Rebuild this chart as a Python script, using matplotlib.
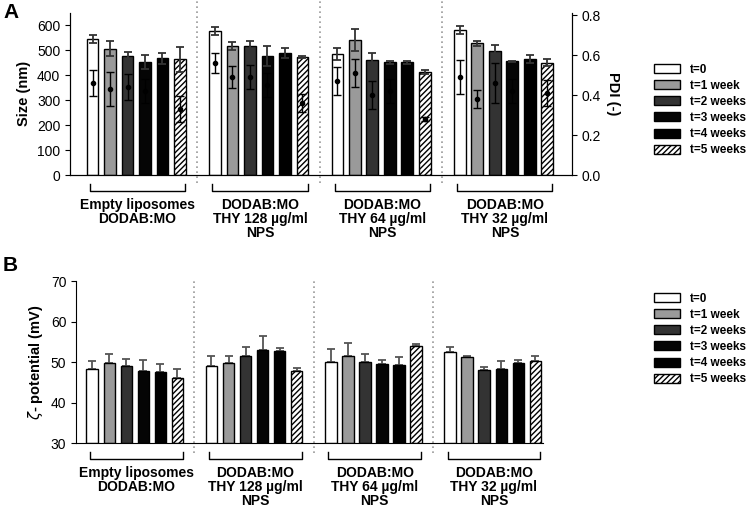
import matplotlib.pyplot as plt
import numpy as np

plt.rcParams['font.family'] = ['Liberation Sans', 'DejaVu Sans']
plt.rcParams['hatch.linewidth'] = 1.0

groups = ['Empty liposomes\nDODAB:MO', 'DODAB:MO\nTHY 128 µg/ml\nNPS',
          'DODAB:MO\nTHY 64 µg/ml\nNPS', 'DODAB:MO\nTHY 32 µg/ml\nNPS']
times = ['t=0', 't=1 week', 't=2 weeks', 't=3 weeks', 't=4 weeks', 't=5 weeks']
colors = ['white', '#9a9a9a', '#333333', '#050505', '#000000', 'white']
hatches = ['', '', '', '', '', '//////']

# size (nm), rows = groups, cols = time points
size = [[545, 505, 475, 452, 468, 463],
        [576, 516, 516, 476, 487, 473],
        [483, 540, 460, 451, 451, 412],
        [580, 527, 495, 455, 463, 450]]
size_err = [[15, 30, 18, 28, 22, 50],
            [17, 15, 20, 40, 20, 4],
            [24, 43, 27, 7, 7, 8],
            [15, 10, 24, 3, 16, 15]]
pdi = [[0.46, 0.43, 0.44, 0.42, 0.42, 0.33],
       [0.56, 0.49, 0.49, 0.45, 0.45, 0.36],
       [0.47, 0.51, 0.40, 0.42, 0.42, 0.28],
       [0.49, 0.38, 0.46, 0.42, 0.42, 0.41]]
pdi_err = [[0.065, 0.085, 0.065, 0.06, 0.06, 0.065],
           [0.05, 0.055, 0.06, 0.06, 0.06, 0.045],
           [0.07, 0.07, 0.07, 0.06, 0.06, 0.01],
           [0.083, 0.045, 0.10, 0.06, 0.06, 0.065]]
# zeta potential (mV)
zeta = [[48.3, 49.7, 49.1, 47.8, 47.7, 46.1],
        [49.1, 49.7, 51.4, 52.9, 52.8, 47.9],
        [50.1, 51.5, 50.0, 49.5, 49.2, 53.9],
        [52.5, 51.2, 48.0, 48.2, 49.9, 50.2]]
zeta_err = [[2.0, 2.2, 1.6, 2.7, 1.8, 2.3],
            [2.5, 1.9, 2.4, 3.5, 0.7, 0.7],
            [3.1, 3.3, 2.0, 1.1, 2.1, 0.7],
            [1.2, 0.4, 0.7, 2.0, 0.7, 1.4]]

size = np.array(size)
size_err = np.array(size_err)
pdi = np.array(pdi)
pdi_err = np.array(pdi_err)
zeta = np.array(zeta)
zeta_err = np.array(zeta_err)

ng, nt = size.shape
step = nt + 1
w = 0.67

fig = plt.figure(figsize=(7.5, 5.09), dpi=100)
axA = fig.add_axes([0.0933, 0.656, 0.669, 0.3193])
axB = fig.add_axes([0.1013, 0.129, 0.6227, 0.3189])


def draw_groups(ax, ytop, ybot):
    # dotted dividers and brackets with labels
    for g in range(1, ng):
        ax.axvline(g * step - 1, ymin=ybot, ymax=ytop, color='#999999', ls=(0, (1, 2)),
                   lw=1.2, clip_on=False, zorder=0)
    trans = ax.get_xaxis_transform()
    for g in range(ng):
        x0 = g * step - 0.15
        x1 = g * step + nt - 1 + 0.3
        ax.plot([x0, x0, x1, x1], [-0.055, -0.095, -0.095, -0.055], color='black', lw=1.0,
                transform=trans, clip_on=False)
        ax.text((x0 + x1) / 2, -0.14, groups[g], transform=trans, ha='center', va='top',
                fontsize=10, fontweight='bold', linespacing=1.0)


# Panel A
handles = []
for i in range(nt):
    x = np.arange(ng) * step + i
    b = axA.bar(x, size[:, i], w, color=colors[i], edgecolor='black', hatch=hatches[i],
                lw=1.0, label=times[i], zorder=2)
    handles.append(b)
    axA.errorbar(x, size[:, i], yerr=size_err[:, i], fmt='none', ecolor='#333333',
                 elinewidth=1.3, capsize=3, capthick=1.3, zorder=3)
axA.set_xlim(-1.29, 27.4)
axA.set_ylim(0, 650)
axA.set_yticks(range(0, 601, 100))
axA.set_xticks([])
axA.spines['top'].set_visible(False)
axA.set_ylabel('Size (nm)', fontsize=10.5, fontweight='bold')
axA.tick_params(axis='y', labelsize=10)

axA2 = axA.twinx()
for i in range(nt):
    x = np.arange(ng) * step + i
    axA2.errorbar(x, pdi[:, i], yerr=pdi_err[:, i], fmt='o', ms=3, color='black',
                  ecolor='black', elinewidth=1.0, capsize=3, capthick=1.0, zorder=4)
axA2.set_yticks([0.0, 0.2, 0.4, 0.6, 0.8])
axA2.set_yticklabels(['0.0', '0.2', '0.4', '0.6', '0.8'])
axA2.spines['top'].set_visible(False)
axA2.set_ylabel('PDI (-)', fontsize=10.5, fontweight='bold', rotation=-90, labelpad=14)
axA2.tick_params(axis='y', labelsize=10)
axA2.set_ylim(0, 0.8 * 650 / 640)
draw_groups(axA, 1.08, -0.05)

# Panel B
for i in range(nt):
    x = np.arange(ng) * step + i
    axB.bar(x, zeta[:, i] - 30, w, bottom=30, color=colors[i], edgecolor='black',
            hatch=hatches[i], lw=1.0, zorder=2)
    axB.errorbar(x, zeta[:, i], yerr=[np.zeros(ng), zeta_err[:, i]], fmt='none',
                 ecolor='#555555', elinewidth=1.3, capsize=3, capthick=1.3, zorder=1)
axB.set_xlim(-0.95, 26.45)
axB.set_ylim(30, 70)
axB.set_yticks(range(30, 71, 10))
axB.set_xticks([])
axB.spines['top'].set_visible(False)
axB.spines['right'].set_visible(False)
axB.set_ylabel(r'$\zeta$- potential (mV)', fontsize=10.5, fontweight='bold')
axB.tick_params(axis='y', labelsize=10)
draw_groups(axB, 1.0, -0.06)

for y in [1 - 110 / 509, 1 - 339 / 509]:
    fig.legend(handles, times, loc='center left', bbox_to_anchor=(0.858, y),
               frameon=False, handlelength=2.2, handleheight=0.8,
               labelspacing=0.35, prop={'weight': 'bold', 'size': 8.5})

fig.text(0.004, 0.995, 'A', fontsize=15, fontweight='bold', va='top')
fig.text(0.004, 0.497, 'B', fontsize=15, fontweight='bold', va='top')

fig.savefig('out.png', dpi=100)
